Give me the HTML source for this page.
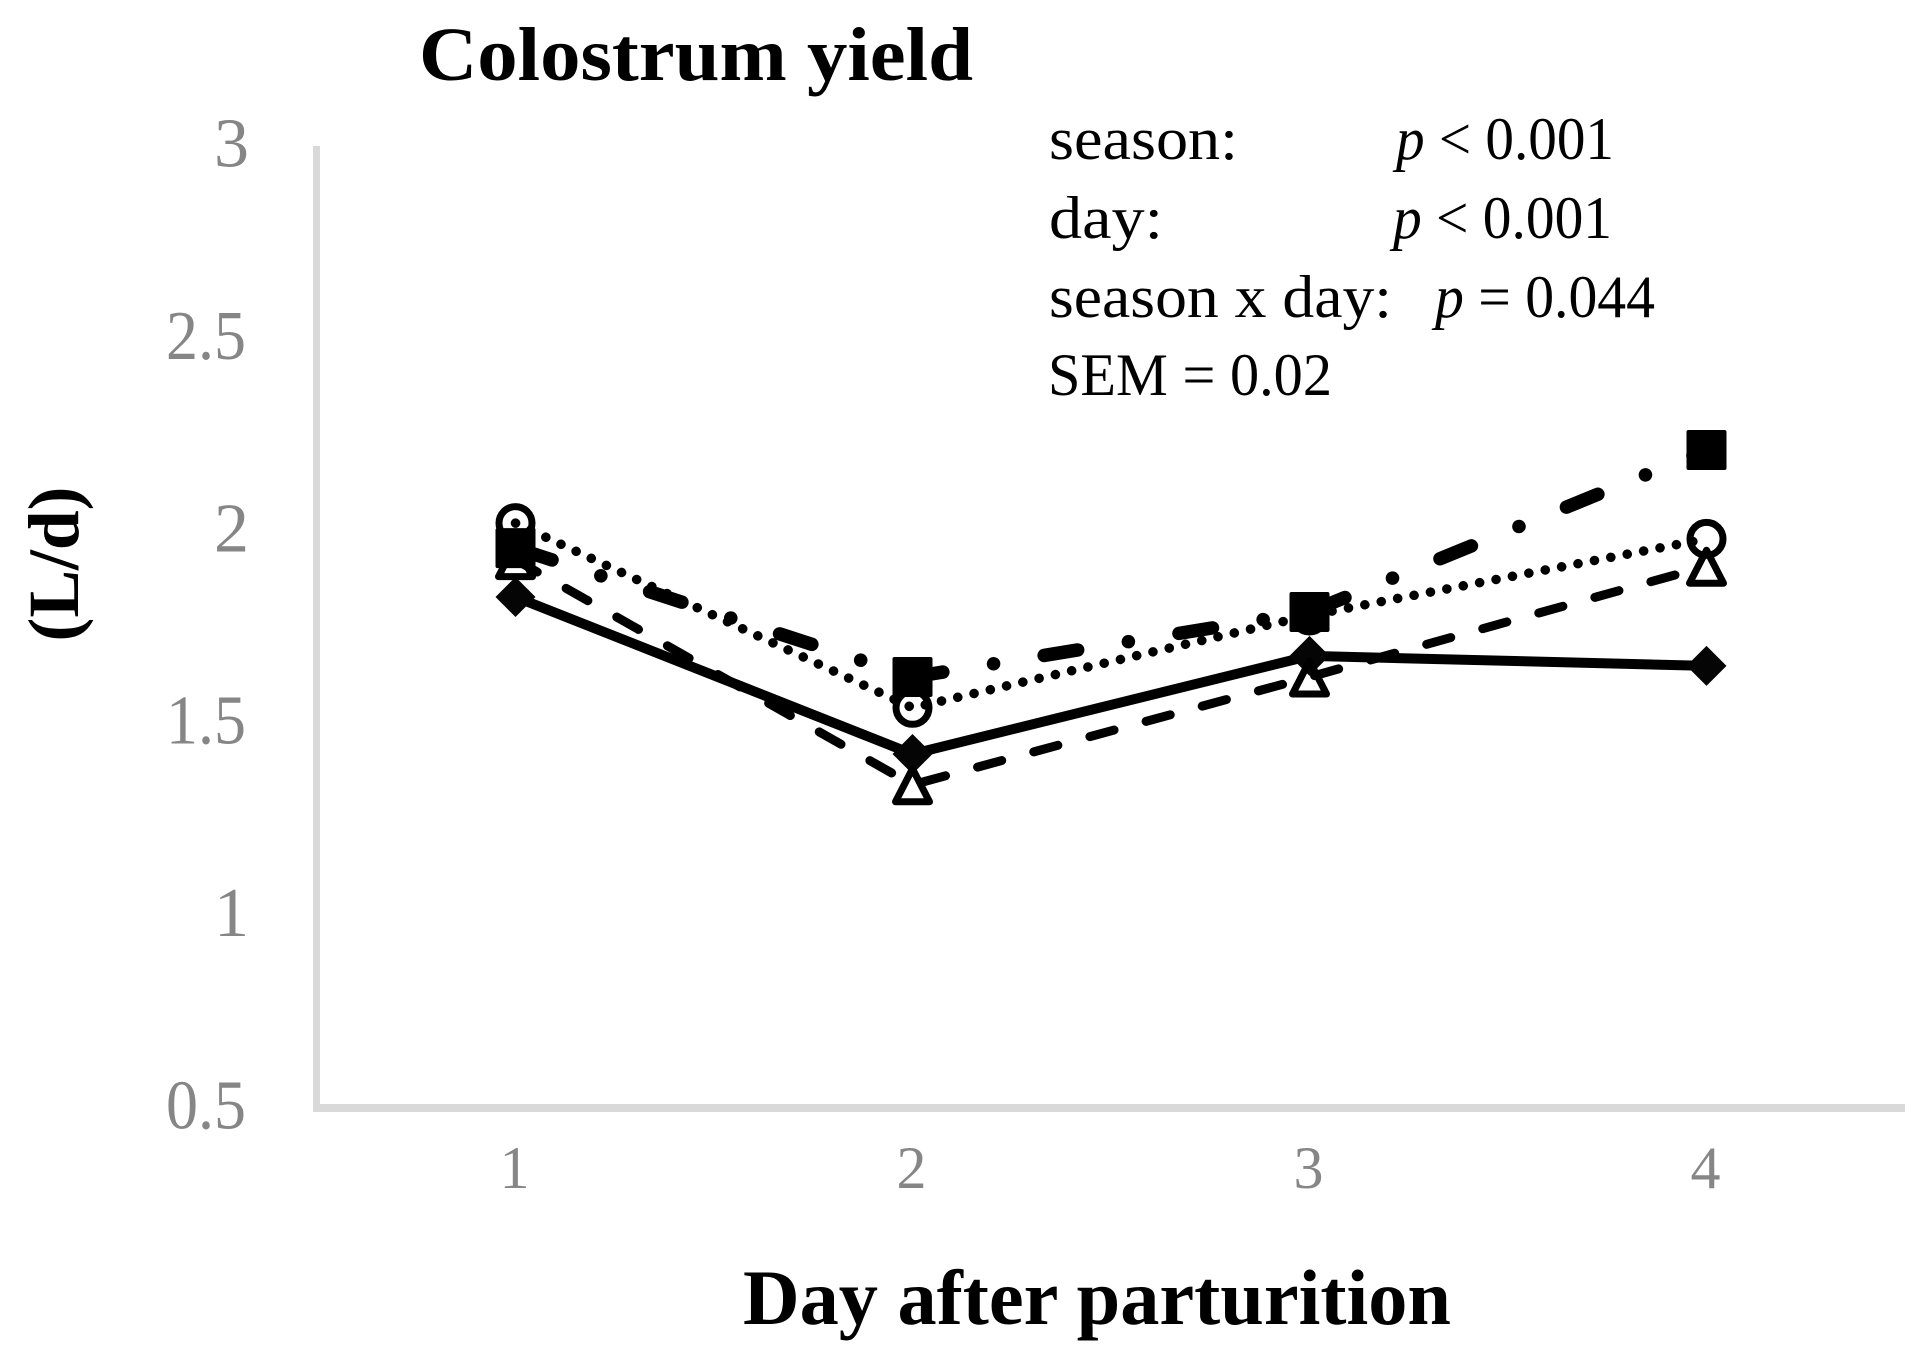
<!DOCTYPE html>
<html lang="en">
<head>
<meta charset="utf-8">
<title>Colostrum yield</title>
<style>
html,body{margin:0;padding:0;background:#fff;width:1929px;height:1368px;overflow:hidden}
svg{display:block}
text{font-family:"Liberation Serif",serif}
.bold{font-weight:bold;fill:#000}
.ann{font-size:60px;fill:#000}
.tick{fill:#868686}
</style>
</head>
<body>
<svg id="chart" xmlns="http://www.w3.org/2000/svg" width="1929" height="1368" viewBox="0 0 1929 1368">
  <rect x="0" y="0" width="1929" height="1368" fill="#fff"/>
  <text class="bold" x="419" y="80" font-size="76" textLength="554" lengthAdjust="spacingAndGlyphs">Colostrum yield</text>
  <text class="bold" font-size="72" text-anchor="middle" transform="translate(78 564) rotate(-90)" textLength="155" lengthAdjust="spacingAndGlyphs">(L/d)</text>
  <text class="bold" x="743" y="1324" font-size="78" textLength="708" lengthAdjust="spacingAndGlyphs">Day after parturition</text>

  <g>
    <text class="ann" x="1049" y="159" textLength="189" lengthAdjust="spacingAndGlyphs">season:</text>
    <text class="ann" x="1396" y="159" textLength="218" lengthAdjust="spacingAndGlyphs"><tspan font-style="italic">p</tspan> &lt; 0.001</text>
    <text class="ann" x="1049" y="238" textLength="114" lengthAdjust="spacingAndGlyphs">day:</text>
    <text class="ann" x="1393" y="238" textLength="219" lengthAdjust="spacingAndGlyphs"><tspan font-style="italic">p</tspan> &lt; 0.001</text>
    <text class="ann" x="1049" y="317" textLength="343" lengthAdjust="spacingAndGlyphs">season x day:</text>
    <text class="ann" x="1435" y="317" textLength="220" lengthAdjust="spacingAndGlyphs"><tspan font-style="italic">p</tspan> = 0.044</text>
    <text class="ann" x="1048" y="395" textLength="284" lengthAdjust="spacingAndGlyphs">SEM = 0.02</text>
  </g>
  <g id="axes"></g>
  <g id="lines"></g>
  <g id="markers"></g>
</svg>
<script>
const days = ["1", "2", "3", "4"];
const yTicks = [0.5, 1, 1.5, 2, 2.5, 3];
const yTickLabels = ["0.5", "1", "1.5", "2", "2.5", "3"];
const diamondValues = [1.828, 1.42, 1.675, 1.649];
const triangleValues = [1.925, 1.34, 1.62, 1.908];
const circleValues = [2.02, 1.54, 1.78, 1.979];
const squareValues = [1.955, 1.62, 1.789, 2.21];

const NS = "http://www.w3.org/2000/svg";
const plotLeft = 317, plotRight = 1905, plotTop = 146, plotBottom = 1108;
const yMin = 0.5, yMax = 3;

function xScale(i) {
  return plotLeft + (i + 0.5) * (plotRight - plotLeft) / days.length;
}
function yScale(v) {
  return plotBottom - (v - yMin) * (plotBottom - plotTop) / (yMax - yMin);
}
function make(tag, attrs, parent) {
  const el = document.createElementNS(NS, tag);
  for (const k in attrs) el.setAttribute(k, attrs[k]);
  parent.appendChild(el);
  return el;
}

const axes = document.getElementById("axes");
const linesG = document.getElementById("lines");
const markersG = document.getElementById("markers");

const yAxis = make("rect", {x: 313, y: plotTop, width: 7, height: plotBottom + 4 - plotTop, fill: "#d9d9d9"}, axes);


const xAxis = make("rect", {x: 316, y: plotBottom - 4, width: plotRight - 316, height: 8, fill: "#d9d9d9"}, axes);



yTicks.forEach(function (t, i) {
  const label = yTickLabels[i];
  const el = make("text", {x: label.length > 1 ? 246 : 249, y: yScale(t) + 20.5, "text-anchor": "end", "font-size": 70, class: "tick"}, axes);
  el.textContent = label;
  if (label.length > 1) {
    el.setAttribute("textLength", 80);
    el.setAttribute("lengthAdjust", "spacingAndGlyphs");
  }
  
  
});

days.forEach(function (d, i) {
  const el = make("text", {x: xScale(i) - 1, y: 1188, "text-anchor": "middle", "font-size": 60, class: "tick"}, axes);
  el.textContent = d;
  
  
});

function seriesLine(values, width, dash, offset) {
  const pts = values.map(function (v, i) { return xScale(i) + "," + yScale(v); }).join(" ");
  const el = make("polyline", {points: pts, fill: "none", stroke: "#000", "stroke-width": width, "stroke-linecap": "round", "stroke-linejoin": "round"}, linesG);
  if (dash) {
    el.setAttribute("stroke-dasharray", dash);
    el.setAttribute("stroke-dashoffset", offset || 0);
  }
  return el;
}

const diamondLine = seriesLine(diamondValues, 10, null, 0);


const triangleLine = seriesLine(triangleValues, 9, "25 33.2", 0);


const circleLine = seriesLine(circleValues, 9.5, "0.1 16.6", 0);


const squareLine = seriesLine(squareValues, 13.5, "34 51.3 0.1 51.2", -4.4);



const R = 20;
diamondValues.forEach(function (v, i) {
  const x = xScale(i), y = yScale(v);
  const el = make("polygon", {points: [x, y - R, x + R, y, x, y + R, x - R, y].join(" "), fill: "#050505"}, markersG);
  
  
});
triangleValues.forEach(function (v, i) {
  const x = xScale(i), y = yScale(v);
  const el = make("polygon", {points: [x, y - R + 4, x + R - 3, y + R - 3, x - R + 3, y + R - 3].join(" "), fill: "none", stroke: "#000", "stroke-width": 7, "stroke-linejoin": "round"}, markersG);
  
  
});
circleValues.forEach(function (v, i) {
  const el = make("circle", {cx: xScale(i), cy: yScale(v), r: R - 3.5, fill: "none", stroke: "#000", "stroke-width": 7}, markersG);
  
  
});
squareValues.forEach(function (v, i) {
  const el = make("rect", {x: xScale(i) - R, y: yScale(v) - R, width: 2 * R, height: 2 * R, rx: 2, fill: "#000"}, markersG);
  
  
});
</script>
</body>
</html>
